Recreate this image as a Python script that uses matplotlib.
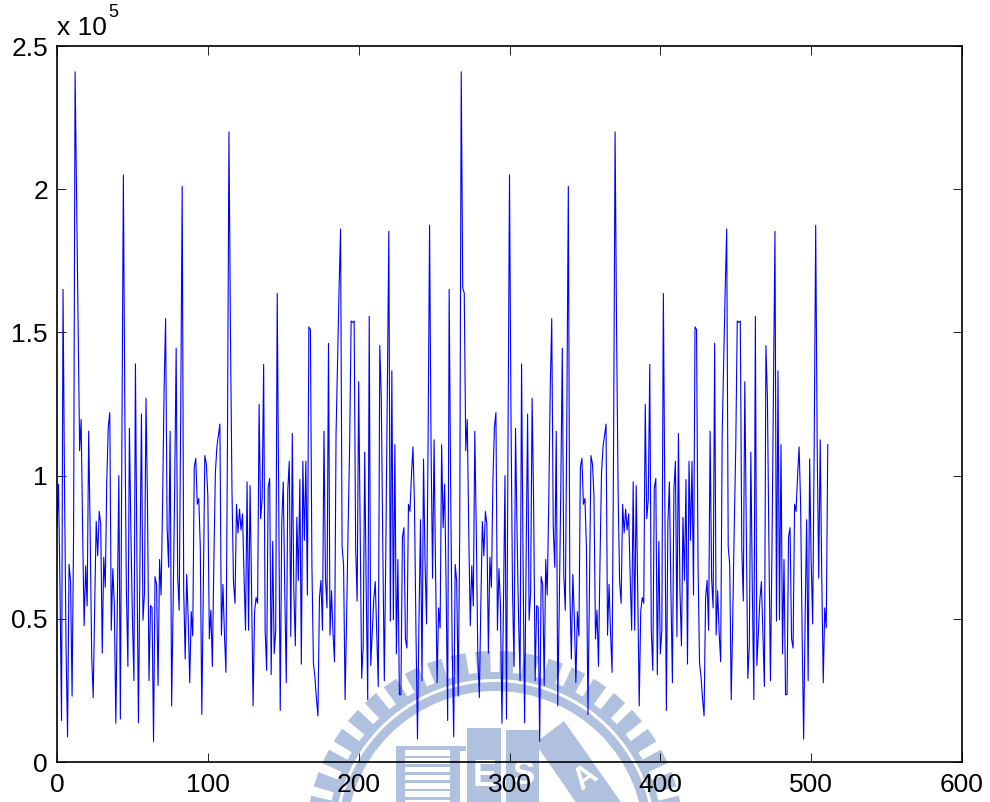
"""Periodic signal, two repeats, with the faded logo behind the axes."""

import numpy as np
import matplotlib.pyplot as plt
from matplotlib.patches import Wedge, Rectangle, Polygon

plt.rcParams["font.family"] = ["Liberation Sans", "DejaVu Sans"]

# one period of the signal, in units of 1e5
period_values = [
    .818, .97, .60, .145, 1.65, .95, .40, .088, .69, .63,
    .23, .80, 2.41, 1.97, 1.53, 1.087, 1.196, .80, .476, .685,
    .545, 1.155, .80, .37, .225, .55, .84, .72, .875, .83,
    .38, .715, .61, .98, 1.17, 1.22, .46, .675, .55, .135,
    .55, 1.00, .15, 1.10, 2.05, 1.20, .60, .334, 1.165, .80,
    .50, .284, 1.39, .70, .137, .70, 1.215, .495, .59, 1.27,
    .90, .284, .546, .54, .072, .647, .62, .267, .707, .583,
    .90, 1.30, 1.548, .82, .68, 1.155, .196, .55, .95, 1.445,
    .65, .53, 1.20, 2.01, .60, .36, .655, .50, .277, .525,
    .44, 1.03, 1.06, .90, .92, .75, .166, .60, 1.07, 1.04,
    .93, .43, .53, .334, .70, 1.01, 1.10, 1.14, 1.18, .443,
    .62, .45, .313, 1.10, 2.20, 1.50, .95, .63, .554, .90,
    .80, .883, .81, .867, .65, .46, .978, .46, .965, .60,
    .196, .525, .574, .554, 1.248, .85, .916, 1.388, .46, .32,
    .957, .99, .305, .77, .378, .46, 1.636, .90, .18, .834,
    .978, .60, .277, .95, 1.05, .438, 1.147, .60, .406, .854,
    .634, .986, .342, 1.05, .774, 1.05, .583, 1.519, 1.51, .688,
    .345, .297, .22, .161, .574, .634, .46, 1.155, .64, .538,
    1.462, .443, .598, .45, .35, 1.144, 1.40, 1.65, 1.861, .753,
    .688, .218, .50, .818, 1.10, 1.54, 1.535, 1.54, .75, .562,
    1.328, .80, .292, .406, 1.082, .60, .218, 1.556, .337, .45,
    .566, .63, .45, .264, 1.454, 1.27, .75, .284, .74, 1.30,
    1.853, .492, 1.366, .497, 1.108, .378, .707, .235, .235, .785,
    .818, .43, .398, .90, .875, 1.00, 1.10, .90, .45, .08,
    .50, .846, .284, 1.058, .70, .482, 1.10, 1.874, 1.10, .642,
    1.125, .655, .277, .538, .468, 1.108,
]
# samples just after the big peak differ in the second repeat
second_repeat_13_14 = [1.654, 1.638]

x_ticks = [0, 100, 200, 300, 400, 500, 600]
y_ticks = [0, 0.5, 1, 1.5, 2, 2.5]
y_labels = ["0", "0.5", "1", "1.5", "2", "2.5"]

W, H = 990, 802
LOGO = "#b0c1df"


def draw_logo(bg):
    cx, cy = 495, 840
    for a in np.arange(0, 360, 7.5):
        bg.add_patch(Wedge((cx, cy), 189, a + 1.45, a + 6.05, width=22, fc=LOGO, ec="none"))
    bg.add_patch(Wedge((cx, cy), 168, 0, 360, width=7, fc=LOGO, ec="none"))
    bg.add_patch(Wedge((cx, cy), 158, 0, 360, width=9, fc=LOGO, ec="none"))

    bg.add_patch(Rectangle((396, 746), 64, 60, fc=LOGO, ec="none"))
    bg.add_patch(Rectangle((396, 746), 70, 5, fc=LOGO, ec="none"))
    for y in np.arange(750, 802, 8.3):
        bg.add_patch(Rectangle((405, y), 45, 5.5, fc="white", ec="none"))
    bg.add_patch(Rectangle((467, 728), 34, 80, fc=LOGO, ec="none"))
    bg.add_patch(Rectangle((506, 730), 33, 80, fc=LOGO, ec="none"))
    bg.add_patch(Polygon([(535, 743), (564, 721), (630, 815), (595, 830)], fc=LOGO, ec="none"))
    bg.text(485, 776, "E", color="white", fontsize=26, fontweight="bold", ha="center", va="center")
    bg.text(523, 775, "S", color="white", fontsize=24, fontweight="bold", ha="center", va="center")
    bg.text(586, 778, "A", color="white", fontsize=22, fontweight="bold", ha="center", va="center", rotation=35)


second = list(period_values)
second[13:15] = second_repeat_13_14
signal = np.array(period_values + second) * 1e5
x = np.arange(len(signal))

fig = plt.figure(figsize=(W / 100, H / 100), dpi=100)

bg = fig.add_axes([0, 0, 1, 1], zorder=0)
bg.set_xlim(0, W)
bg.set_ylim(H, 0)
bg.axis("off")
draw_logo(bg)

ax = fig.add_axes([57 / W, (H - 762) / H, (962 - 57) / W, (762 - 46) / H], zorder=1)
ax.patch.set_visible(False)
ax.plot(x, signal, color="#0000ff", lw=0.8)
ax.set_xlim(0, 600)
ax.set_ylim(0, 2.5e5)
ax.set_xticks(x_ticks)
ax.set_yticks([v * 1e5 for v in y_ticks])
ax.set_yticklabels(y_labels)
ax.tick_params(direction="in", top=True, right=True, length=6.5, width=0.6, labelsize=19)
ax.tick_params(axis="x", pad=8)
ax.tick_params(axis="y", pad=6.5)
for spine in ax.spines.values():
    spine.set_linewidth(1.2)

fig.text(57 / W, 1 - 35 / H, "x 10", fontsize=19, ha="left", va="baseline")
fig.text(108 / W, 1 - 17 / H, "5", fontsize=13, ha="left", va="baseline")

fig.savefig("out.png", dpi=100)
